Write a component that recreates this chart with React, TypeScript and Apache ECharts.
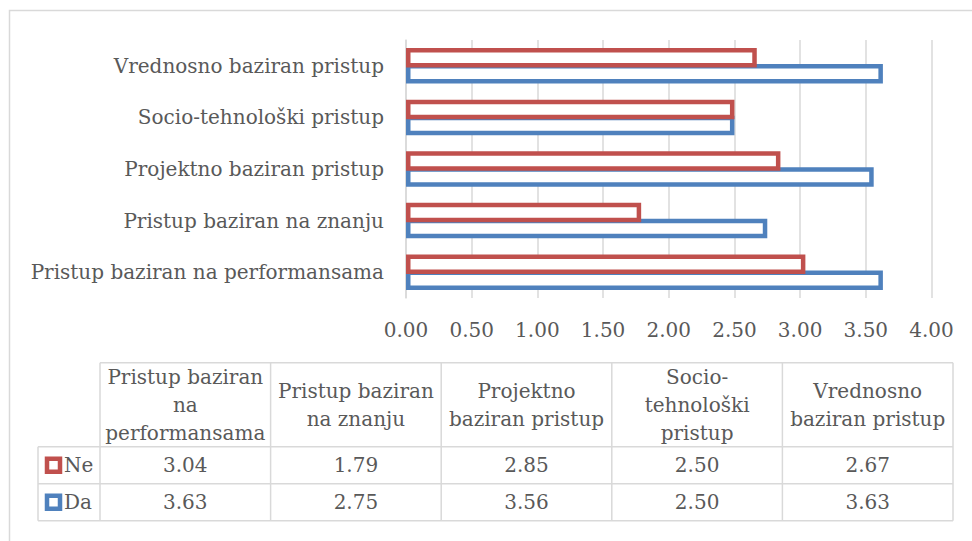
import React, { useEffect, useRef } from "react";
import * as echarts from "echarts";

const categories = [
  "Pristup baziran na performansama",
  "Pristup baziran na znanju",
  "Projektno baziran pristup",
  "Socio-tehnološki pristup",
  "Vrednosno baziran pristup",
];
const headerLines = [
  ["Pristup baziran", "na", "performansama"],
  ["Pristup baziran", "na znanju"],
  ["Projektno", "baziran pristup"],
  ["Socio-", "tehnološki", "pristup"],
  ["Vrednosno", "baziran pristup"],
];
const seriesNames = ["Ne", "Da"];
const neValues = [3.04, 1.79, 2.85, 2.5, 2.67];
const daValues = [3.63, 2.75, 3.56, 2.5, 3.63];
const seriesColors = ["#c0504d", "#4f81bd"];
const xTicks = { min: 0, max: 4, interval: 0.5 };

const FONT = "DejaVu Serif";
const FS = 20;
const TXT = "#595959";
const LINE = "#d9d9d9";

export default function App() {
  const ref = useRef<HTMLDivElement>(null);
  useEffect(() => {
    if (!ref.current) return;
    const chart = echarts.init(ref.current, undefined, { renderer: "svg" });

    const colX0 = 100;
    const colW = 170.6;
    const rowHdrX = 38;
    const tTop = 362.7;
    const hdrBottom = 446.7;
    const rowH = 37;
    const tableRight = colX0 + colW * categories.length;
    const graphics: any[] = [];
    const ln = (x1: number, y1: number, x2: number, y2: number) => ({
      type: "line",
      shape: { x1, y1, x2, y2 },
      style: { stroke: LINE, lineWidth: 1.5 },
      silent: true,
    });
    graphics.push({
      type: "rect",
      shape: { x: 9.5, y: 10.5, width: 1000, height: 600 },
      style: { fill: "none", stroke: LINE, lineWidth: 1.5 },
      silent: true,
    });
    graphics.push(ln(colX0, tTop, tableRight, tTop));
    for (let r = 0; r <= seriesNames.length; r++) {
      const y = hdrBottom + r * rowH;
      graphics.push(ln(rowHdrX, y, tableRight, y));
    }
    for (let c = 0; c <= categories.length; c++) {
      const x = colX0 + c * colW;
      graphics.push(ln(x, tTop, x, hdrBottom + seriesNames.length * rowH));
    }
    graphics.push(ln(rowHdrX, hdrBottom, rowHdrX, hdrBottom + seriesNames.length * rowH));
    headerLines.forEach((lines, c) => {
      graphics.push({
        type: "text",
        x: colX0 + c * colW + colW / 2,
        y: (tTop + hdrBottom) / 2,
        style: {
          text: lines.join("\n"),
          fill: TXT,
          fontFamily: FONT,
          fontSize: FS,
          lineHeight: 28,
          align: "center",
          verticalAlign: "middle",
        },
        silent: true,
      });
    });
    const rows = [neValues, daValues];
    rows.forEach((vals, r) => {
      const yc = hdrBottom + r * rowH + rowH / 2;
      graphics.push({
        type: "rect",
        shape: { x: 47, y: yc - 6.5, width: 13, height: 13 },
        style: { fill: "#fff", stroke: seriesColors[r], lineWidth: 4.5 },
        silent: true,
      });
      graphics.push({
        type: "text",
        x: 64,
        y: yc,
        style: {
          text: seriesNames[r],
          fill: TXT,
          fontFamily: FONT,
          fontSize: FS,
          align: "left",
          verticalAlign: "middle",
        },
        silent: true,
      });
      vals.forEach((v, c) => {
        graphics.push({
          type: "text",
          x: colX0 + c * colW + colW / 2,
          y: yc,
          style: {
            text: v.toFixed(2),
            fill: TXT,
            fontFamily: FONT,
            fontSize: FS,
            align: "center",
            verticalAlign: "middle",
          },
          silent: true,
        });
      });
    });

    const barCommon = {
      type: "bar",
      barWidth: 19.5,
      barGap: "-18%",
    };

    chart.setOption({
      animation: false,
      textStyle: { fontFamily: FONT },
      grid: { left: 406, right: 40.5, top: 40, height: 258, containLabel: false },
      xAxis: {
        type: "value",
        min: xTicks.min,
        max: xTicks.max,
        interval: xTicks.interval,
        axisLine: { show: false },
        axisTick: { show: false },
        splitLine: { show: true, lineStyle: { color: LINE, width: 1.5 } },
        axisLabel: {
          color: TXT,
          fontFamily: FONT,
          fontSize: FS,
          margin: 22,
          formatter: (v: number) => v.toFixed(2),
        },
      },
      yAxis: {
        type: "category",
        data: categories,
        axisLine: { show: true, lineStyle: { color: LINE, width: 1.5 } },
        axisTick: { show: false },
        axisLabel: { color: TXT, fontFamily: FONT, fontSize: FS, margin: 22 },
      },
      graphic: graphics,
      series: [
        {
          ...barCommon,
          name: seriesNames[0],
          data: neValues,
          z: 3,
          itemStyle: { color: "#ffffff", borderColor: seriesColors[0], borderWidth: 4.5 },
        },
        {
          ...barCommon,
          name: seriesNames[1],
          data: daValues,
          z: 2,
          itemStyle: { color: "#ffffff", borderColor: seriesColors[1], borderWidth: 4.5 },
        },
      ],
    });
    return () => chart.dispose();
  }, []);
  return (
    <div
      ref={ref}
      style={{ position: "fixed", left: 0, top: 0, width: 972, height: 541, background: "#fff" }}
    />
  );
}
